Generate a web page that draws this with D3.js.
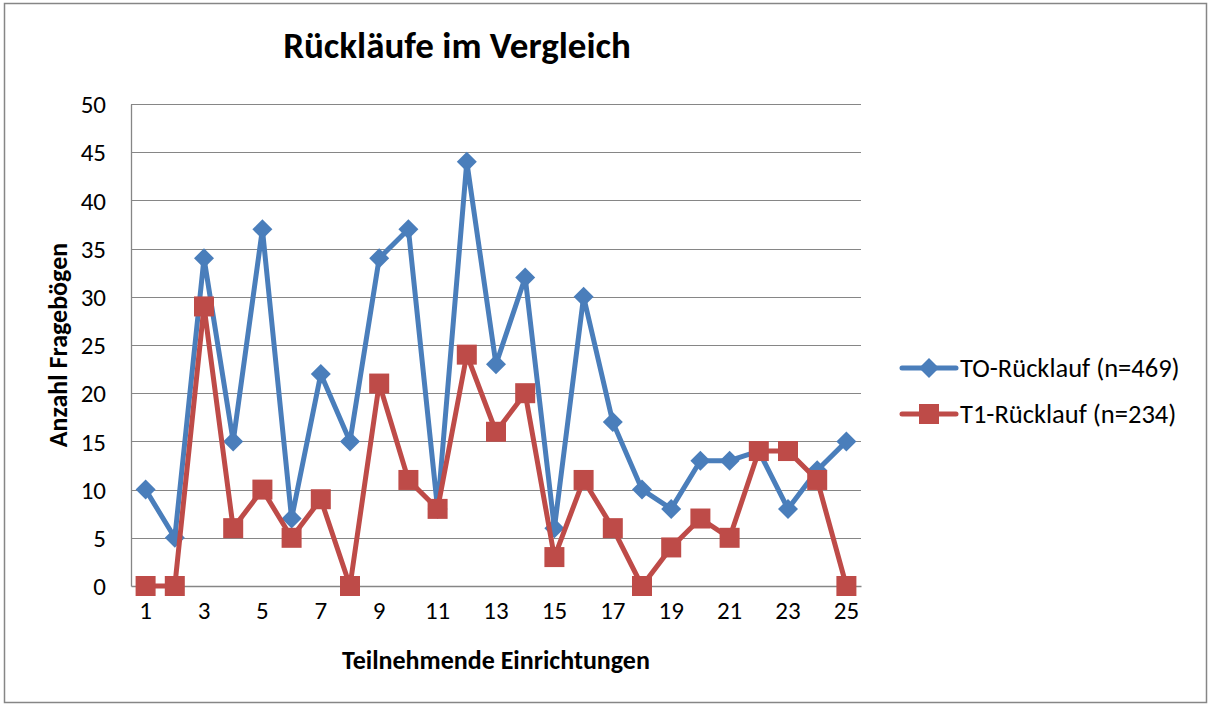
<!DOCTYPE html>
<html>
<head>
<meta charset="utf-8">
<script src="https://cdn.jsdelivr.net/npm/d3@7"></script>
<style>
  body { margin: 0; background: #fff; }
  text { font-family: Carlito, Calibri, Lato, sans-serif; fill: #000; }
</style>
</head>
<body>
<div id="chart"></div>
<script>
// data
const einrichtungen = d3.range(1, 26);
const t0Ruecklauf = [10, 5, 34, 15, 37, 7, 22, 15, 34, 37, 8, 44, 23, 32, 6, 30, 17, 10, 8, 13, 13, 14, 8, 12, 15];
const t1Ruecklauf = [0, 0, 29, 6, 10, 5, 9, 0, 21, 11, 8, 24, 16, 20, 3, 11, 6, 0, 4, 7, 5, 14, 14, 11, 0];
const seriesNames = ['TO-Rücklauf (n=469)', 'T1-Rücklauf (n=234)'];
const yTicks = [0, 5, 10, 15, 20, 25, 30, 35, 40, 45, 50];
const xTickLabels = einrichtungen.filter(d => d % 2 === 1);

const W = 1211, H = 705;
const margin = {top: 104, right: 350, bottom: 119, left: 131};
const width = W - margin.left - margin.right;
const height = H - margin.top - margin.bottom;

const svg = d3.select('#chart').append('svg')
  .attr('width', W).attr('height', H);

// outer chart frame
svg.append('rect')
  .attr('x', 4.5).attr('y', 3.5)
  .attr('width', W - 9).attr('height', H - 6)
  .attr('fill', '#fff').attr('stroke', '#868686').attr('stroke-width', 1.5);

const g = svg.append('g').attr('transform', `translate(${margin.left},${margin.top})`);

const x = d3.scaleBand().domain(einrichtungen).range([0, width]);
const y = d3.scaleLinear().domain([0, 50]).range([height, 0]);
const cx = d => x(d) + x.bandwidth() / 2;

// gridlines
g.append('g').selectAll('line')
  .data(yTicks.filter(d => d > 0))
  .enter().append('line')
    .attr('x1', 0).attr('x2', width)
    .attr('y1', d => Math.round(y(d)) + 0.5).attr('y2', d => Math.round(y(d)) + 0.5)
    .attr('stroke', '#868686').attr('stroke-width', 1);

// axes
const yAxis = g.append('g')
  .call(d3.axisLeft(y).tickValues(yTicks).tickSize(0).tickPadding(25));
yAxis.select('.domain').attr('stroke', '#868686').attr('stroke-width', 1.3);
yAxis.selectAll('text').style('font-size', '25px').attr('dy', '0.35em');

const xAxis = g.append('g')
  .attr('transform', `translate(0,${height})`)
  .call(d3.axisBottom(x).tickValues(xTickLabels).tickSize(0).tickPadding(24));
xAxis.select('.domain').attr('stroke', '#868686').attr('stroke-width', 1.3);
xAxis.selectAll('text').style('font-size', '25px').attr('dy', '0.35em');

// titles
svg.append('text')
  .attr('x', 457).attr('y', 58)
  .attr('text-anchor', 'middle')
  .style('font-size', '37px').style('font-weight', 'bold')
  .text('Rückläufe im Vergleich');

svg.append('text')
  .attr('x', margin.left + width / 2).attr('y', 669)
  .attr('text-anchor', 'middle')
  .style('font-size', '26px').style('font-weight', 'bold')
  .text('Teilnehmende Einrichtungen');

svg.append('text')
  .attr('transform', `translate(67,${margin.top + height / 2}) rotate(-90)`)
  .attr('text-anchor', 'middle')
  .style('font-size', '26px').style('font-weight', 'bold')
  .text('Anzahl Fragebögen');

const colors = ['#4a7ebb', '#be4b48'];
const line = d3.line().x((d, i) => cx(einrichtungen[i])).y(d => y(d));

const diamond = s => `M0,${-s}L${s},0L0,${s}L${-s},0Z`;

function drawSeries(values, color, marker) {
  g.append('path')
    .datum(values)
    .attr('d', line)
    .attr('fill', 'none')
    .attr('stroke', color)
    .attr('stroke-width', 5)
    .attr('stroke-linejoin', 'round');
  const m = g.append('g').selectAll('path')
    .data(values)
    .enter();
  if (marker === 'diamond') {
    m.append('path')
      .attr('transform', (d, i) => `translate(${cx(einrichtungen[i])},${y(d)})`)
      .attr('d', diamond(10))
      .attr('fill', color);
  } else {
    m.append('rect')
      .attr('x', (d, i) => cx(einrichtungen[i]) - 10)
      .attr('y', d => y(d) - 10)
      .attr('width', 20).attr('height', 20)
      .attr('fill', color);
  }
}

drawSeries(t0Ruecklauf, colors[0], 'diamond');
drawSeries(t1Ruecklauf, colors[1], 'square');

// legend
const legend = svg.append('g');
seriesNames.forEach((name, i) => {
  const ly = 368 + i * 46;
  const lg = legend.append('g').attr('transform', `translate(0,${ly})`);
  lg.append('line')
    .attr('x1', 902).attr('x2', 956)
    .attr('stroke', colors[i]).attr('stroke-width', 5).attr('stroke-linecap', 'round');
  if (i === 0) {
    lg.append('path').attr('transform', 'translate(929,0)').attr('d', diamond(10)).attr('fill', colors[i]);
  } else {
    lg.append('rect').attr('x', 919).attr('y', -10).attr('width', 20).attr('height', 20).attr('fill', colors[i]);
  }
  lg.append('text')
    .attr('x', 960).attr('dy', '0.35em')
    .style('font-size', '26.5px')
    .text(name);
});
</script>
</body>
</html>
